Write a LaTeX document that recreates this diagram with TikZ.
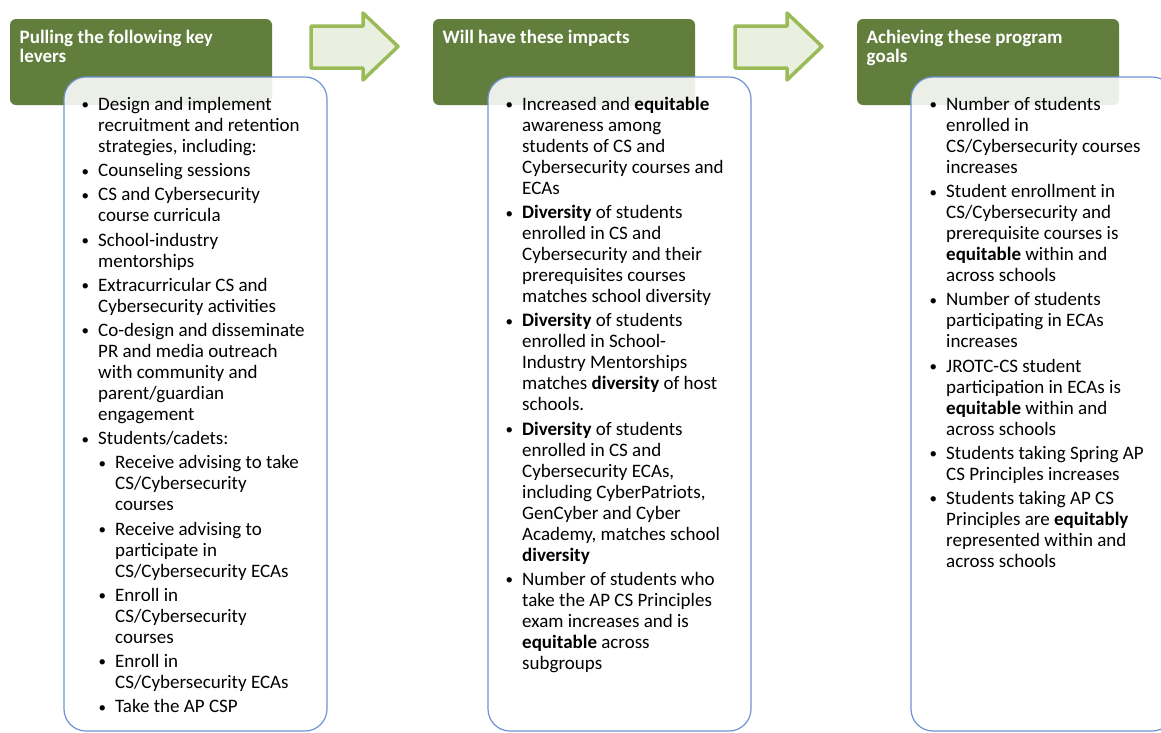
\documentclass[tikz,border=0pt]{standalone}
\usepackage{fontspec}
\setmainfont{Carlito}
\definecolor{hdrgreen}{RGB}{97,126,61}
\definecolor{arrfill}{RGB}{233,240,223}
\definecolor{arrline}{RGB}{155,187,89}
\definecolor{boxline}{RGB}{112,146,212}
\newcommand\myb{\llap{\makebox[16.5pt][l]{\raisebox{0.6pt}{\fontsize{15}{15}\selectfont\textbullet}}}}
\newcommand\myind{\hspace*{17pt}}
\newcommand\mysb{\hspace*{17pt}\myb}
\newcommand\g{3.2pt}
\tikzset{
  hdrbox/.style={fill=hdrgreen, draw=none, rounded corners=6pt, anchor=north west,
    minimum width=262pt, minimum height=86pt, inner sep=0pt, outer sep=0pt},
  card/.style={draw=boxline, line width=1.2pt, fill=white, fill opacity=0.88,
    rounded corners=22pt, anchor=north west, minimum width=263pt, minimum height=654pt,
    inner sep=0pt, outer sep=0pt},
  arr/.style={draw=arrline, fill=arrfill, line width=3.5pt, line join=round},
  hdrtext/.style={anchor=base west, inner sep=0pt, text=white,
    font=\fontsize{19}{19.5}\selectfont\bfseries},
  body/.style={anchor=base west, inner sep=0pt, text=black,
    font=\fontsize{19}{21}\selectfont},
}
\begin{document}
\begin{tikzpicture}[x=1pt,y=-1pt]
\useasboundingbox (0,0) rectangle (1161,732);
\clip (0,0) rectangle (1161,732);
\fill[white] (0,0) rectangle (1161,732);

% headers
\node[hdrbox] (h1) at (10,19) {};
\node[hdrbox] (h2) at (433,19) {};
\node[hdrbox] (h3) at (857,19) {};
\node[hdrtext] (h1t) at (19.5,43.3) {\begin{tabular}[t]{@{}l@{}}Pulling the following key\\levers\end{tabular}};
\node[hdrtext] (h2t) at (442.5,43.3) {\begin{tabular}[t]{@{}l@{}}Will have these impacts\end{tabular}};
\node[hdrtext] (h3t) at (866.5,43.3) {\begin{tabular}[t]{@{}l@{}}Achieving these program\\goals\end{tabular}};

% arrows
\draw[arr] (311,26) -- (363,26) -- (363,13) -- (398,46.5) -- (363,80) -- (363,68) -- (311,68) -- cycle;
\draw[arr] (735,26) -- (787,26) -- (787,13) -- (822,46.5) -- (787,80) -- (787,68) -- (735,68) -- cycle;

% cards
\node[card] (c1) at (64,77) {};
\node[card] (c2) at (488,77) {};
\node[card] (c3) at (911,77) {};

% body texts
\node[body] (t1) at (98,110.5) {\begin{tabular}[t]{@{}l@{}}
\myb Design and implement\\
recruitment and retention\\
strategies, including:\\[\g]
\myb Counseling sessions\\[\g]
\myb CS and Cybersecurity\\
course curricula\\[\g]
\myb School-industry\\
mentorships\\[\g]
\myb Extracurricular CS and\\
Cybersecurity activities\\[\g]
\myb Co-design and disseminate\\
PR and media outreach\\
with community and\\
parent/guardian\\
engagement\\[\g]
\myb Students/cadets:\\[\g]
\mysb Receive advising to take\\
\myind CS/Cybersecurity\\
\myind courses\\[\g]
\mysb Receive advising to\\
\myind participate in\\
\myind CS/Cybersecurity ECAs\\[\g]
\mysb Enroll in\\
\myind CS/Cybersecurity\\
\myind courses\\[\g]
\mysb Enroll in\\
\myind CS/Cybersecurity ECAs\\[\g]
\mysb Take the AP CSP
\end{tabular}};

\node[body] (t2) at (522,110.5) {\begin{tabular}[t]{@{}l@{}}
\myb Increased and \textbf{equitable}\\
awareness among\\
students of CS and\\
Cybersecurity courses and\\
ECAs\\[\g]
\myb \textbf{Diversity} of students\\
enrolled in CS and\\
Cybersecurity and their\\
prerequisites courses\\
matches school diversity\\[\g]
\myb \textbf{Diversity} of students\\
enrolled in School-\\
Industry Mentorships\\
matches \textbf{diversity} of host\\
schools.\\[\g]
\myb \textbf{Diversity} of students\\
enrolled in CS and\\
Cybersecurity ECAs,\\
including CyberPatriots,\\
GenCyber and Cyber\\
Academy, matches school\\
\textbf{diversity}\\[\g]
\myb Number of students who\\
take the AP CS Principles\\
exam increases and is\\
\textbf{equitable} across\\
subgroups
\end{tabular}};

\node[body] (t3) at (946,110.5) {\begin{tabular}[t]{@{}l@{}}
\myb Number of students\\
enrolled in\\
CS/Cybersecurity courses\\
increases\\[\g]
\myb Student enrollment in\\
CS/Cybersecurity and\\
prerequisite courses is\\
\textbf{equitable} within and\\
across schools\\[\g]
\myb Number of students\\
participating in ECAs\\
increases\\[\g]
\myb JROTC-CS student\\
participation in ECAs is\\
\textbf{equitable} within and\\
across schools\\[\g]
\myb Students taking Spring AP\\
CS Principles increases\\[\g]
\myb Students taking AP CS\\
Principles are \textbf{equitably}\\
represented within and\\
across schools
\end{tabular}};
\end{tikzpicture}
\end{document}
